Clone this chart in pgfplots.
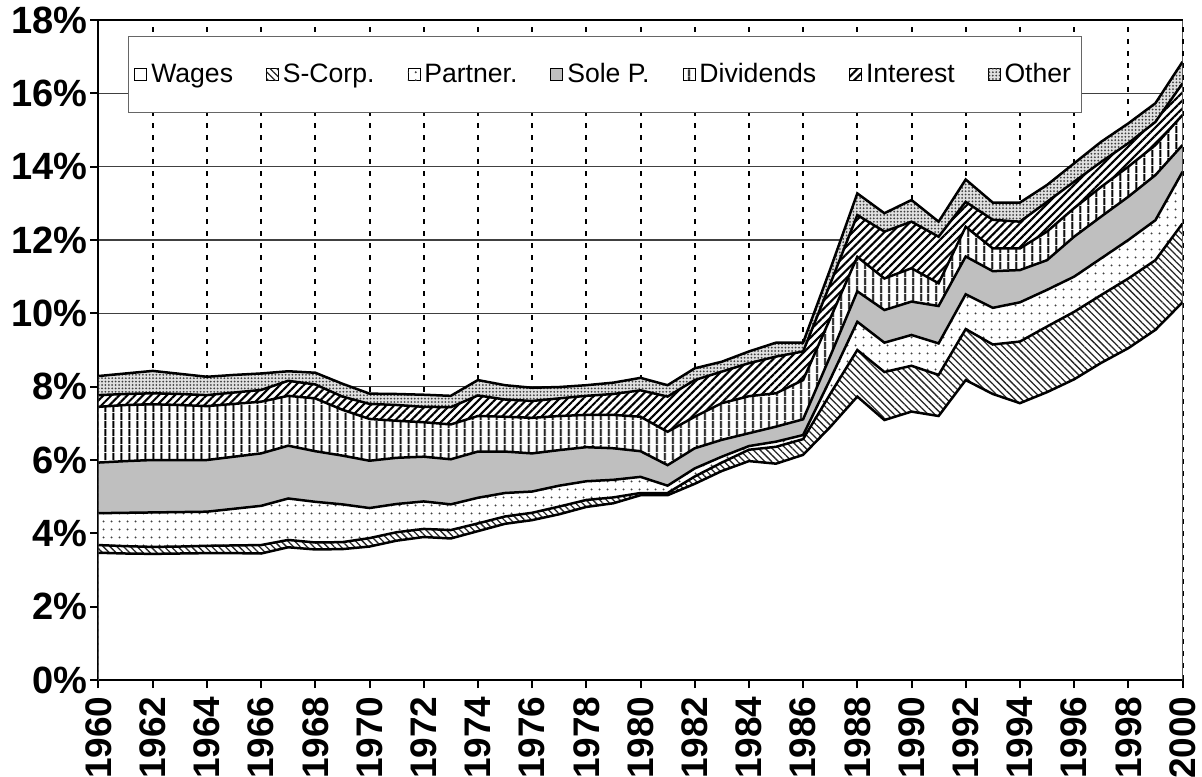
\documentclass[border=0pt]{standalone}
\usepackage{fontspec}
\setmainfont{Liberation Sans}
\usepackage{pgfplots}
\pgfplotsset{compat=1.18}
\usepackage{pgfplotstable}
\usetikzlibrary{patterns,patterns.meta}

\pgfplotstableread{
year w s p sp d i o
1960 3.47 3.68 4.55 5.93 7.45 7.77 8.29
1961 3.45 3.65 4.56 5.97 7.50 7.80 8.36
1962 3.44 3.63 4.57 6.00 7.52 7.82 8.43
1963 3.45 3.64 4.58 6.00 7.50 7.80 8.35
1964 3.46 3.66 4.59 6.00 7.47 7.77 8.27
1965 3.46 3.67 4.67 6.09 7.53 7.84 8.32
1966 3.45 3.68 4.75 6.18 7.59 7.91 8.36
1967 3.62 3.82 4.95 6.39 7.75 8.16 8.42
1968 3.56 3.75 4.86 6.24 7.68 8.06 8.38
1969 3.57 3.76 4.79 6.12 7.37 7.73 8.08
1970 3.64 3.87 4.69 5.98 7.12 7.53 7.81
1971 3.80 4.03 4.80 6.06 7.07 7.50 7.80
1972 3.90 4.12 4.87 6.09 7.03 7.45 7.78
1973 3.86 4.09 4.79 6.02 6.97 7.44 7.75
1974 4.06 4.27 4.97 6.23 7.20 7.76 8.18
1975 4.26 4.46 5.10 6.23 7.18 7.65 8.04
1976 4.36 4.56 5.14 6.18 7.15 7.61 7.97
1977 4.52 4.73 5.30 6.27 7.20 7.68 7.99
1978 4.72 4.91 5.42 6.35 7.23 7.75 8.04
1979 4.82 4.98 5.46 6.32 7.23 7.80 8.11
1980 5.04 5.10 5.54 6.24 7.18 7.90 8.24
1981 5.04 5.10 5.30 5.86 6.77 7.73 8.04
1982 5.35 5.55 5.77 6.32 7.18 8.18 8.50
1983 5.70 5.93 6.09 6.55 7.55 8.41 8.68
1984 5.97 6.28 6.38 6.73 7.74 8.64 8.96
1985 5.90 6.36 6.50 6.91 7.82 8.82 9.20
1986 6.14 6.57 6.68 7.11 8.18 8.96 9.20
1987 6.90 7.80 8.20 8.83 9.86 10.80 11.20
1988 7.73 9.00 9.77 10.60 11.54 12.68 13.27
1989 7.09 8.40 9.20 10.09 10.95 12.23 12.73
1990 7.32 8.57 9.41 10.32 11.23 12.50 13.09
1991 7.20 8.32 9.18 10.20 10.82 12.09 12.50
1992 8.18 9.57 10.52 11.55 12.36 13.04 13.65
1993 7.80 9.15 10.15 11.15 11.77 12.55 13.02
1994 7.55 9.23 10.30 11.18 11.77 12.50 13.02
1995 7.85 9.64 10.64 11.45 12.23 13.04 13.50
1996 8.20 10.04 11.00 12.09 12.87 13.59 14.09
1997 8.65 10.50 11.50 12.64 13.45 14.13 14.68
1998 9.05 10.95 12.00 13.18 14.00 14.64 15.18
1999 9.55 11.45 12.54 13.77 14.59 15.22 15.73
2000 10.30 12.45 13.86 14.59 15.41 16.27 16.86
}\data

\pgfplotsset{
  wagesS/.style={draw=none, fill=white},
  scorpS/.style={draw=none, fill=white, postaction={pattern={Lines[angle=-45,distance=2.4pt,line width=0.65pt]}, pattern color=black!85}},
  partS/.style={draw=none, fill=white, postaction={pattern={Dots[distance=4pt,radius=0.6pt]}, pattern color=black!75}},
  soleS/.style={draw=none, fill=black!25},
  divS/.style={draw=none, fill=white, postaction={pattern={Lines[angle=90,distance=4pt,line width=1.1pt]}, pattern color=black}},
  intS/.style={draw=none, fill=white, postaction={pattern={Lines[angle=45,distance=2.8pt,line width=1.05pt]}, pattern color=black}},
  othS/.style={draw=none, fill=black!12, postaction={pattern={Dots[distance=1.7pt,radius=0.5pt]}, pattern color=black!75}},
  edge/.style={black, line width=1.25pt, forget plot},
}

\begin{document}
\begin{tikzpicture}
\useasboundingbox (-49.25pt,-48pt) rectangle (551.75pt,340pt);
\begin{axis}[
  at={(0,0)}, anchor=south west,
  scale only axis, width=542pt, height=330pt,
  xmin=1960, xmax=2000, ymin=0, ymax=18,
  axis x line*=box, axis y line*=left,
  axis line style={black, line width=1pt},
  xtick={1960,1962,...,2000},
  xticklabels={1960,1962,1964,1966,1968,1970,1972,1974,1976,1978,1980,1982,1984,1986,1988,1990,1992,1994,1996,1998,2000},
  ytick={0,2,...,18},
  yticklabels={0\%,2\%,4\%,6\%,8\%,10\%,12\%,14\%,16\%,18\%},
  xtick pos=left, ytick pos=left,
  tick align=outside, major tick length=4pt,
  tick style={black, line width=1pt},
  xticklabel style={rotate=90, anchor=east, inner sep=0pt, inner xsep=4pt, font=\fontsize{18.5}{18.5}\selectfont\bfseries},
  yticklabel style={anchor=east, inner sep=0pt, inner xsep=2pt, xshift=0.5pt, font=\fontsize{19}{19}\selectfont\bfseries},
  xmajorgrids, ymajorgrids,
  x grid style={black, line width=1pt, dash pattern=on 2.5pt off 3.5pt},
  y grid style={black!75, line width=0.6pt},
  legend columns=7,
  legend image code/.code={\draw[#1, draw=black, line width=0.4pt] (0pt,-3pt) rectangle (6pt,3pt);},
  legend style={at={(0.0272,0.976)}, anchor=north west, draw=black!60, line width=0.5pt, fill=white,
    font=\fontsize{13.3}{15}\selectfont, inner xsep=3pt, inner ysep=11.5pt,
    /tikz/every even column/.append style={column sep=14.5pt}},
]
\addplot[othS, forget plot] table[x=year,y=o]{\data} \closedcycle;
\addplot[intS, forget plot] table[x=year,y=i]{\data} \closedcycle;
\addplot[divS, forget plot] table[x=year,y=d]{\data} \closedcycle;
\addplot[soleS, forget plot] table[x=year,y=sp]{\data} \closedcycle;
\addplot[partS, forget plot] table[x=year,y=p]{\data} \closedcycle;
\addplot[scorpS, forget plot] table[x=year,y=s]{\data} \closedcycle;
\addplot[wagesS, forget plot] table[x=year,y=w]{\data} \closedcycle;

\addplot[edge] table[x=year,y=o]{\data};
\addplot[edge] table[x=year,y=i]{\data};
\addplot[edge] table[x=year,y=d]{\data};
\addplot[edge] table[x=year,y=sp]{\data};
\addplot[edge] table[x=year,y=p]{\data};
\addplot[edge] table[x=year,y=s]{\data};
\addplot[edge] table[x=year,y=w]{\data};

\draw[black, line width=1pt] (rel axis cs:0,1) -- (rel axis cs:0,0) -- (rel axis cs:1,0);
\draw[black, line width=0.6pt] (rel axis cs:1,0) -- (rel axis cs:1,1);

\addlegendimage{wagesS}\addlegendentry{Wages}
\addlegendimage{scorpS}\addlegendentry{S-Corp.}
\addlegendimage{partS}\addlegendentry{Partner.}
\addlegendimage{soleS}\addlegendentry{Sole P.}
\addlegendimage{divS}\addlegendentry{Dividends}
\addlegendimage{intS}\addlegendentry{Interest}
\addlegendimage{othS}\addlegendentry{Other}
\end{axis}
\end{tikzpicture}
\end{document}
